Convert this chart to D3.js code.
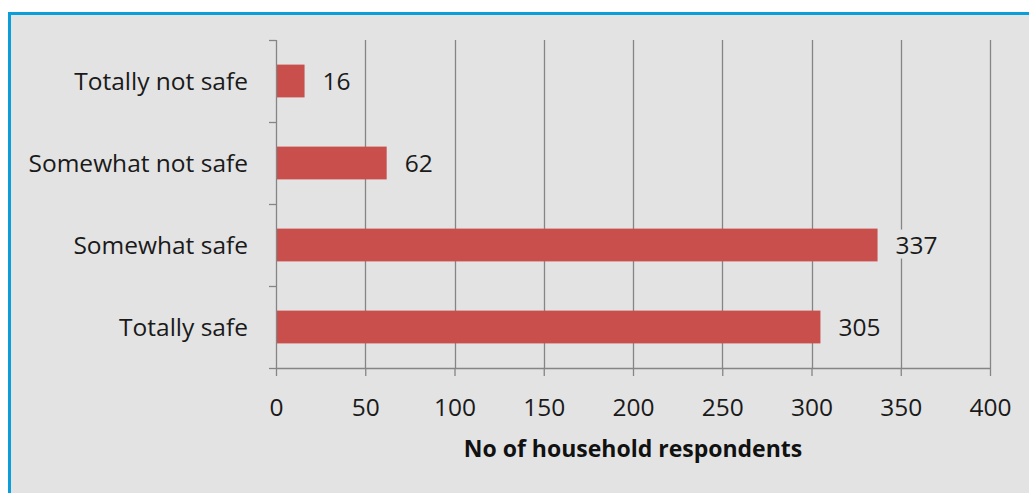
<!DOCTYPE html>
<html>
<head>
<meta charset="utf-8">
<script src="https://cdn.jsdelivr.net/npm/d3@7"></script>
<style>
  html, body { margin: 0; padding: 0; background: #ffffff; }
  svg { display: block; }
</style>
</head>
<body>
<svg id="chart" width="1029" height="493"></svg>
<script>
// Perceived safety categories, top to bottom
const categories = ["Totally not safe", "Somewhat not safe", "Somewhat safe", "Totally safe"];
const respondents = [16, 62, 337, 305];
const xTicks = [0, 50, 100, 150, 200, 250, 300, 350, 400];
const xTitle = "No of household respondents";

const svg = d3.select("#chart");
const W = 1029, H = 493;
const font = "'Open Sans', 'Noto Sans', sans-serif";
const fs = 24.5;
const panelFill = "#e3e3e3";

// Panel background with blue frame on top and left
svg.append("rect").attr("x", 10).attr("y", 13).attr("width", W - 10).attr("height", H - 13)
  .attr("fill", panelFill);
svg.append("line").attr("x1", 9.5).attr("x2", W).attr("y1", 13.5).attr("y2", 13.5)
  .attr("stroke", "#0a9fd8").attr("stroke-width", 3);
svg.append("line").attr("x1", 9.5).attr("x2", 9.5).attr("y1", 12).attr("y2", H)
  .attr("stroke", "#0a9fd8").attr("stroke-width", 3);

const plotL = 276, plotR = 990, plotT = 40, plotB = 368;

const x = d3.scaleLinear().domain([0, 400]).range([plotL, plotR]);
const y = d3.scaleBand().domain(categories).range([plotT, plotB]).paddingInner(0.6).paddingOuter(0.3);
const yBand = d3.scaleBand().domain(categories).range([plotT, plotB]);

// Vertical gridlines
svg.append("g").selectAll("line").data(xTicks.slice(1)).join("line")
  .attr("x1", d => Math.round(x(d)) + 0.5).attr("x2", d => Math.round(x(d)) + 0.5)
  .attr("y1", plotT).attr("y2", plotB)
  .attr("stroke", "#858585").attr("stroke-width", 1.3);

// Bars
svg.append("g").selectAll("rect").data(categories).join("rect")
  .attr("x", x(0))
  .attr("y", d => y(d))
  .attr("width", (d, i) => x(respondents[i]) - x(0))
  .attr("height", y.bandwidth())
  .attr("fill", "#c84f4c");

// Value labels on a panel-coloured box so gridlines stay behind them
const labels = svg.append("g").selectAll("g").data(categories).join("g")
  .attr("transform", (d, i) => `translate(${x(respondents[i]) + 18},${y(d) + y.bandwidth() / 2})`);
labels.append("text")
  .attr("dy", "0.35em")
  .attr("font-family", font).attr("font-size", fs).attr("fill", "#1a1a1a")
  .text((d, i) => respondents[i]);
labels.each(function () {
  const g = d3.select(this);
  const b = g.select("text").node().getBBox();
  g.insert("rect", "text")
    .attr("x", b.x - 3).attr("y", b.y + 2).attr("width", b.width + 6).attr("height", b.height - 4)
    .attr("fill", panelFill);
});

// X axis
const xAxis = svg.append("g").attr("transform", `translate(0,${plotB})`)
  .call(d3.axisBottom(x).tickValues(xTicks).tickSize(8));
xAxis.select(".domain").attr("stroke", "#858585").attr("stroke-width", 1.3).attr("d", `M${plotL},0.5H${plotR}`);
xAxis.selectAll(".tick line").attr("stroke", "#858585").attr("stroke-width", 1.3).attr("y1", 0);
xAxis.selectAll(".tick text").attr("y", 48).attr("dy", null)
  .attr("font-family", font).attr("font-size", fs).attr("fill", "#1a1a1a");

// Y axis with tick marks on band boundaries
const yAxis = svg.append("g").attr("transform", `translate(${plotL},0)`);
yAxis.append("line").attr("x1", 0.5).attr("x2", 0.5).attr("y1", plotT).attr("y2", plotB)
  .attr("stroke", "#858585").attr("stroke-width", 1.3);
const bounds = categories.map(c => yBand(c)).concat([plotB]);
yAxis.selectAll("line.tk").data(bounds).join("line").attr("class", "tk")
  .attr("x1", -7).attr("x2", 0).attr("y1", d => d + 0.5).attr("y2", d => d + 0.5)
  .attr("stroke", "#858585").attr("stroke-width", 1.3);
yAxis.selectAll("text").data(categories).join("text")
  .attr("x", -28)
  .attr("y", d => y(d) + y.bandwidth() / 2)
  .attr("dy", "0.35em")
  .attr("text-anchor", "end")
  .attr("font-family", font).attr("font-size", fs).attr("fill", "#1a1a1a")
  .text(d => d);

// Axis title
svg.append("text")
  .attr("x", (plotL + plotR) / 2).attr("y", 457)
  .attr("text-anchor", "middle")
  .attr("font-family", font).attr("font-size", 23).attr("font-weight", "bold").attr("fill", "#111")
  .text(xTitle);
</script>
</body>
</html>
